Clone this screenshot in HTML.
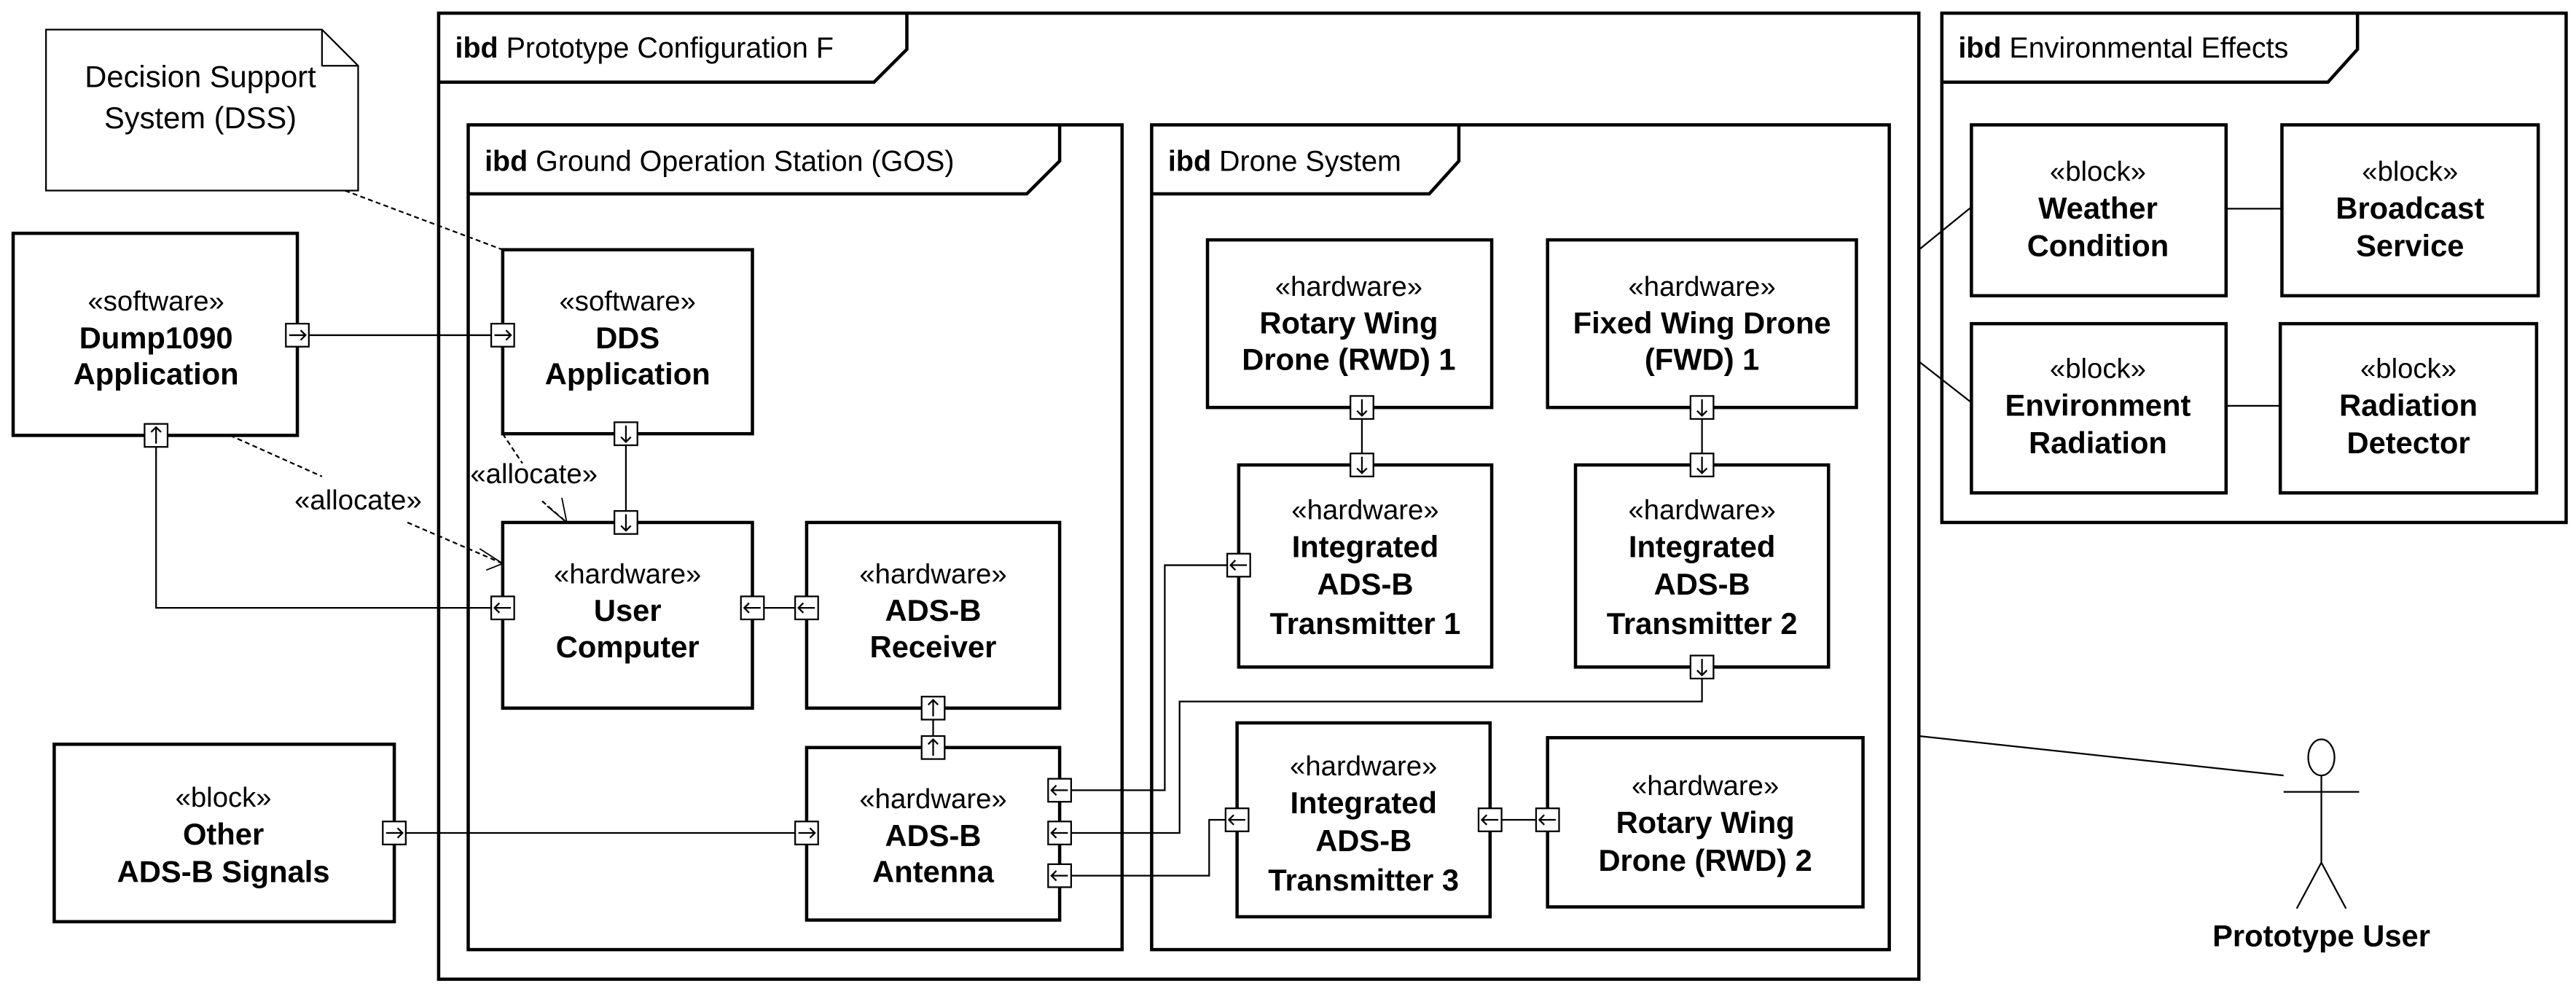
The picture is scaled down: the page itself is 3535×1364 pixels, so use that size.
<!DOCTYPE html>
<html><head><meta charset="utf-8"><style>
html,body{margin:0;padding:0;background:#fff}
svg{display:block}
text{font-family:"Liberation Sans",Arial,sans-serif;fill:#000}
.s{font-size:17px}
.n{font-size:18.5px}
.b{font-size:18.5px;font-weight:bold}
.h{font-size:17.5px}
</style></head><body>
<svg width="3535" height="1364" viewBox="0 0 1568 605" xmlns="http://www.w3.org/2000/svg">
<defs>
<g id="pr"><rect x="-7" y="-7" width="14" height="14" fill="#fff" stroke="#000" stroke-width="1"/><path d="M-5 0H5M2 -3L5 0L2 3" fill="none" stroke="#000" stroke-width="1"/></g>
<g id="pl"><rect x="-7" y="-7" width="14" height="14" fill="#fff" stroke="#000" stroke-width="1"/><path d="M5 0H-5M-2 -3L-5 0L-2 3" fill="none" stroke="#000" stroke-width="1"/></g>
<g id="pd"><rect x="-7" y="-7" width="14" height="14" fill="#fff" stroke="#000" stroke-width="1"/><path d="M0 -5V5M-3 2L0 5L3 2" fill="none" stroke="#000" stroke-width="1"/></g>
<g id="pu"><rect x="-7" y="-7" width="14" height="14" fill="#fff" stroke="#000" stroke-width="1"/><path d="M0 5V-5M-3 -2L0 -5L3 -2" fill="none" stroke="#000" stroke-width="1"/></g>
</defs>
<rect width="1568" height="605" fill="#fff"/>

<g fill="none" stroke="#000" stroke-width="2">
<rect x="267" y="8" width="901" height="588"/>
<path d="M267 50H532L552 30V8"/>
<rect x="285" y="76" width="398" height="502"/>
<path d="M285 118H625L645 98V76"/>
<rect x="701" y="76" width="449" height="502"/>
<path d="M701 118H870L888 98V76"/>
<rect x="1182" y="8" width="380" height="310"/>
<path d="M1182 50H1417L1435 30V8"/>
</g>
<text x="277" y="35" class="h"><tspan font-weight="bold">ibd</tspan> Prototype Configuration F</text>
<text x="295" y="104" class="h"><tspan font-weight="bold">ibd</tspan> Ground Operation Station (GOS)</text>
<text x="711" y="104" class="h"><tspan font-weight="bold">ibd</tspan> Drone System</text>
<text x="1192" y="35" class="h"><tspan font-weight="bold">ibd</tspan> Environmental Effects</text>

<path d="M28 18H196L218 40V116H28Z M196 18V40H218" fill="#fff" stroke="#000" stroke-width="1"/>
<text x="122" y="53" class="n" text-anchor="middle">Decision Support</text>
<text x="122" y="78" class="n" text-anchor="middle">System (DSS)</text>

<g fill="none" stroke="#000" stroke-width="1" stroke-dasharray="3,2">
<path d="M210 116L306 152"/>
<path d="M140 265L196 290"/>
<path d="M248 318L306 343"/>
<path d="M306 264L318 282"/>
<path d="M330 305L345 318"/>
</g>
<path d="M292 334L306 343L296 347" fill="none" stroke="#000" stroke-width="0.8"/>
<path d="M333 308L345 318L342 303" fill="none" stroke="#000" stroke-width="0.8"/>
<text x="218" y="310" class="s" text-anchor="middle">«allocate»</text>
<text x="325" y="294" class="s" text-anchor="middle">«allocate»</text>

<g fill="none" stroke="#000" stroke-width="1">
<path d="M188 204H299"/>
<path d="M95 272V370H299"/>
<path d="M381 271V311"/>
<path d="M465 370H484"/>
<path d="M568 438V448"/>
<path d="M247 507H484"/>
<path d="M652 481H709V344H747"/>
<path d="M652 507H718V427H1036V413"/>
<path d="M652 533H736V499H746"/>
<path d="M914 499H935"/>
<path d="M829 255V276"/>
<path d="M1036 255V276"/>
<path d="M1200 126L1168 152"/>
<path d="M1200 245L1168 220"/>
<path d="M1355 127H1389"/>
<path d="M1355 247H1388"/>
<path d="M1168 448L1390 472"/>
</g>

<g fill="#fff" stroke="#000" stroke-width="2">
<rect x="8" y="142" width="173" height="123"/>
<rect x="306" y="152" width="152" height="112"/>
<rect x="306" y="318" width="152" height="113"/>
<rect x="491" y="318" width="154" height="113"/>
<rect x="491" y="455" width="154" height="105"/>
<rect x="33" y="453" width="207" height="108"/>
<rect x="735" y="146" width="173" height="102"/>
<rect x="942" y="146" width="188" height="102"/>
<rect x="754" y="283" width="154" height="123"/>
<rect x="959" y="283" width="154" height="123"/>
<rect x="753" y="440" width="154" height="118"/>
<rect x="942" y="449" width="192" height="103"/>
<rect x="1200" y="76" width="155" height="104"/>
<rect x="1389" y="76" width="156" height="104"/>
<rect x="1200" y="197" width="155" height="103"/>
<rect x="1388" y="197" width="156" height="103"/>
</g>

<g text-anchor="middle">
<text x="95" y="189" class="s">«software»</text>
<text x="95" y="212" class="b">Dump1090</text>
<text x="95" y="234" class="b">Application</text>

<text x="382" y="189" class="s">«software»</text>
<text x="382" y="212" class="b">DDS</text>
<text x="382" y="234" class="b">Application</text>

<text x="382" y="355" class="s">«hardware»</text>
<text x="382" y="378" class="b">User</text>
<text x="382" y="400" class="b">Computer</text>

<text x="568" y="355" class="s">«hardware»</text>
<text x="568" y="378" class="b">ADS-B</text>
<text x="568" y="400" class="b">Receiver</text>

<text x="568" y="492" class="s">«hardware»</text>
<text x="568" y="515" class="b">ADS-B</text>
<text x="568" y="537" class="b">Antenna</text>

<text x="136" y="491" class="s">«block»</text>
<text x="136" y="514" class="b">Other</text>
<text x="136" y="537" class="b">ADS-B Signals</text>

<text x="821" y="180" class="s">«hardware»</text>
<text x="821" y="203" class="b">Rotary Wing</text>
<text x="821" y="225" class="b">Drone (RWD) 1</text>

<text x="1036" y="180" class="s">«hardware»</text>
<text x="1036" y="203" class="b">Fixed Wing Drone</text>
<text x="1036" y="225" class="b">(FWD) 1</text>

<text x="831" y="316" class="s">«hardware»</text>
<text x="831" y="339" class="b">Integrated</text>
<text x="831" y="362" class="b">ADS-B</text>
<text x="831" y="386" class="b">Transmitter 1</text>

<text x="1036" y="316" class="s">«hardware»</text>
<text x="1036" y="339" class="b">Integrated</text>
<text x="1036" y="362" class="b">ADS-B</text>
<text x="1036" y="386" class="b">Transmitter 2</text>

<text x="830" y="472" class="s">«hardware»</text>
<text x="830" y="495" class="b">Integrated</text>
<text x="830" y="518" class="b">ADS-B</text>
<text x="830" y="542" class="b">Transmitter 3</text>

<text x="1038" y="484" class="s">«hardware»</text>
<text x="1038" y="507" class="b">Rotary Wing</text>
<text x="1038" y="530" class="b">Drone (RWD) 2</text>

<text x="1277" y="110" class="s">«block»</text>
<text x="1277" y="133" class="b">Weather</text>
<text x="1277" y="156" class="b">Condition</text>

<text x="1467" y="110" class="s">«block»</text>
<text x="1467" y="133" class="b">Broadcast</text>
<text x="1467" y="156" class="b">Service</text>

<text x="1277" y="230" class="s">«block»</text>
<text x="1277" y="253" class="b">Environment</text>
<text x="1277" y="276" class="b">Radiation</text>

<text x="1466" y="230" class="s">«block»</text>
<text x="1466" y="253" class="b">Radiation</text>
<text x="1466" y="276" class="b">Detector</text>

<text x="1413" y="576" class="b">Prototype User</text>
</g>

<g fill="none" stroke="#000" stroke-width="1">
<ellipse cx="1413" cy="461" rx="8" ry="11"/>
<path d="M1413 472V525M1390 482H1436M1413 525L1398 553M1413 525L1428 553"/>
</g>

<use href="#pr" x="181" y="204"/>
<use href="#pu" x="95" y="265"/>
<use href="#pr" x="306" y="204"/>
<use href="#pd" x="381" y="264"/>
<use href="#pd" x="381" y="318"/>
<use href="#pl" x="306" y="370"/>
<use href="#pl" x="458" y="370"/>
<use href="#pl" x="491" y="370"/>
<use href="#pu" x="568" y="431"/>
<use href="#pu" x="568" y="455"/>
<use href="#pr" x="491" y="507"/>
<use href="#pl" x="645" y="481"/>
<use href="#pl" x="645" y="507"/>
<use href="#pl" x="645" y="533"/>
<use href="#pr" x="240" y="507"/>
<use href="#pd" x="829" y="248"/>
<use href="#pd" x="1036" y="248"/>
<use href="#pd" x="829" y="283"/>
<use href="#pd" x="1036" y="283"/>
<use href="#pd" x="1036" y="406"/>
<use href="#pl" x="754" y="344"/>
<use href="#pl" x="753" y="499"/>
<use href="#pl" x="907" y="499"/>
<use href="#pl" x="942" y="499"/>
</svg>
</body></html>
